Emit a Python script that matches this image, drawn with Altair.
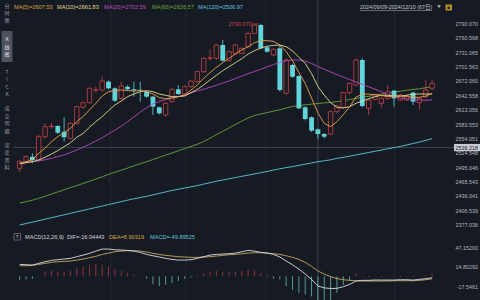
import altair as alt
import pandas as pd

# ---------------- data ----------------
idx = list(range(1, 67))
opens = [2493.5, 2507.2, 2517.4, 2510.6, 2558.5, 2579.1, 2580.5, 2568.8, 2555.1, 2586.0,
         2618.8, 2628.4, 2654.0, 2654.5, 2671.6, 2657.9, 2637.3, 2661.3, 2655.8, 2655.0,
         2651.0, 2640.8, 2618.8, 2603.1, 2630.5, 2655.8, 2646.2, 2661.3, 2671.6, 2692.1,
         2719.5, 2719.5, 2746.9, 2714.7, 2729.8, 2729.8, 2743.5, 2770.9, 2788.0, 2742.1,
         2726.4, 2740.1, 2648.0, 2705.8, 2683.2, 2618.8, 2598.3, 2573.6, 2564.0, 2564.0,
         2609.9, 2618.8, 2649.0, 2664.7, 2716.1, 2616.8, 2635.3, 2627.1, 2637.3, 2653.1,
         2634.0, 2634.0, 2649.0, 2628.4, 2640.8, 2658.0]
highs = [2510.6, 2520.9, 2524.3, 2562.0, 2586.0, 2587.3, 2582.0, 2598.3, 2588.0, 2622.0,
         2631.0, 2660.0, 2661.3, 2681.9, 2674.0, 2660.0, 2671.6, 2664.0, 2671.6, 2671.6,
         2653.0, 2642.0, 2620.0, 2629.0, 2658.0, 2664.7, 2664.0, 2675.0, 2694.0, 2721.0,
         2738.0, 2749.0, 2757.2, 2735.0, 2749.0, 2742.0, 2773.0, 2789.0, 2790.07, 2744.0,
         2740.0, 2746.9, 2720.0, 2708.0, 2685.0, 2621.0, 2600.0, 2575.0, 2566.0, 2612.0,
         2624.0, 2651.0, 2670.0, 2719.0, 2719.5, 2636.0, 2647.0, 2640.7, 2664.7, 2654.5,
         2647.0, 2646.0, 2651.0, 2640.0, 2675.0, 2675.0]
lows = [2486.6, 2503.7, 2503.7, 2507.2, 2555.1, 2575.7, 2564.0, 2548.3, 2553.0, 2584.0,
        2616.0, 2626.0, 2649.0, 2651.0, 2656.0, 2630.0, 2633.9, 2653.0, 2640.8, 2630.5,
        2638.0, 2603.1, 2604.0, 2599.7, 2628.0, 2644.0, 2644.0, 2659.0, 2669.0, 2690.0,
        2714.7, 2717.0, 2712.7, 2713.0, 2727.0, 2728.0, 2741.0, 2769.0, 2738.0, 2731.0,
        2724.0, 2651.0, 2644.0, 2679.0, 2615.0, 2592.0, 2568.0, 2555.0, 2555.0, 2562.0,
        2607.0, 2616.0, 2646.0, 2662.0, 2618.8, 2603.1, 2633.0, 2618.8, 2633.9, 2620.2,
        2632.0, 2632.0, 2623.6, 2613.4, 2637.0, 2654.0]
closes = [2507.2, 2517.4, 2510.6, 2558.5, 2579.1, 2580.5, 2566.8, 2557.2, 2586.0, 2620.2,
          2628.4, 2657.9, 2655.0, 2672.9, 2657.9, 2632.5, 2662.7, 2655.8, 2653.1, 2654.0,
          2640.8, 2620.2, 2606.5, 2627.1, 2655.8, 2646.2, 2661.3, 2672.9, 2692.1, 2719.5,
          2720.2, 2746.9, 2714.7, 2733.2, 2746.9, 2740.1, 2770.9, 2788.0, 2740.1, 2733.2,
          2738.0, 2654.5, 2716.0, 2681.8, 2616.8, 2594.9, 2570.9, 2564.0, 2558.5, 2609.9,
          2621.6, 2649.0, 2668.1, 2716.1, 2621.6, 2633.9, 2644.2, 2637.3, 2651.0, 2637.3,
          2644.2, 2642.1, 2630.5, 2637.3, 2654.5, 2668.1]
ma5 = [2503.8, 2507.2, 2510.6, 2524.3, 2534.6, 2548.3, 2558.5, 2566.8, 2575.7, 2589.4,
       2599.7, 2613.4, 2627.0, 2642.1, 2651.0, 2653.1, 2654.5, 2653.1, 2652.4, 2653.1,
       2651.0, 2646.2, 2638.7, 2636.6, 2638.0, 2640.8, 2644.2, 2654.5, 2664.7, 2678.4,
       2690.1, 2701.0, 2710.6, 2719.5, 2728.4, 2736.6, 2743.5, 2751.7, 2755.8, 2755.8,
       2754.5, 2746.9, 2733.2, 2714.7, 2690.1, 2668.1, 2638.0, 2607.5, 2586.0, 2579.1,
       2589.4, 2604.0, 2620.0, 2640.0, 2646.0, 2646.0, 2645.0, 2643.0, 2641.0, 2641.5,
       2642.1, 2640.8, 2639.4, 2639.4, 2642.1, 2647.6]
ma10 = [2502.4, 2505.1, 2507.2, 2510.6, 2516.1, 2522.9, 2529.8, 2538.0, 2546.2, 2557.2,
        2565.4, 2577.7, 2589.4, 2599.7, 2612.0, 2623.6, 2631.8, 2640.8, 2646.2, 2651.0,
        2653.1, 2651.0, 2646.2, 2643.5, 2640.8, 2640.8, 2642.1, 2649.0, 2655.8, 2664.7,
        2675.0, 2684.6, 2694.2, 2702.4, 2710.6, 2718.8, 2728.4, 2735.3, 2740.8, 2744.2,
        2746.2, 2746.9, 2743.5, 2735.0, 2721.6, 2709.3, 2688.0, 2661.8, 2644.0, 2628.4,
        2618.8, 2617.5, 2620.2, 2627.0, 2631.8, 2636.6, 2640.8, 2643.5, 2643.5, 2642.1,
        2642.1, 2643.5, 2646.2, 2646.2, 2646.2, 2646.2]
ma20 = [2504.0, 2505.5, 2507.0, 2509.0, 2511.0, 2514.0, 2517.5, 2521.0, 2526.0, 2531.0,
        2537.0, 2543.0, 2549.5, 2556.5, 2564.0, 2572.0, 2580.0, 2589.5, 2599.0, 2609.0,
        2618.0, 2626.0, 2631.0, 2634.5, 2637.5, 2641.0, 2644.5, 2648.5, 2652.5, 2656.0,
        2660.0, 2664.0, 2668.5, 2673.0, 2678.0, 2683.0, 2688.0, 2692.5, 2697.0, 2702.0,
        2706.5, 2711.0, 2714.5, 2716.0, 2716.0, 2714.0, 2709.0, 2702.6, 2697.0, 2691.5,
        2686.0, 2681.0, 2676.0, 2671.0, 2666.0, 2661.0, 2656.0, 2651.0, 2646.0, 2641.0,
        2638.0, 2636.0, 2634.5, 2634.0, 2633.5, 2634.0]
ma60 = [2422.0, 2425.0, 2428.0, 2432.0, 2436.0, 2440.5, 2445.0, 2449.5, 2454.0, 2458.0,
        2462.5, 2467.0, 2471.5, 2476.0, 2481.0, 2485.5, 2489.5, 2494.0, 2498.5, 2503.0,
        2507.0, 2511.5, 2516.0, 2520.5, 2525.0, 2529.5, 2534.0, 2538.5, 2543.0, 2548.5,
        2555.5, 2562.5, 2569.5, 2576.5, 2583.5, 2590.5, 2597.0, 2602.0, 2605.0, 2608.0,
        2611.0, 2614.0, 2617.5, 2620.5, 2622.5, 2624.0, 2625.5, 2626.6, 2628.0, 2629.0,
        2630.5, 2632.5, 2635.0, 2637.0, 2639.5, 2641.5, 2644.0, 2646.0, 2648.0, 2650.0,
        2652.0, 2654.0, 2655.5, 2657.0, 2659.0, 2661.0]
ma120 = [2377.0, 2380.0, 2383.0, 2386.0, 2389.0, 2392.0, 2395.0, 2398.0, 2401.0, 2404.0,
         2407.0, 2410.0, 2413.0, 2416.0, 2419.0, 2422.0, 2425.0, 2428.0, 2431.0, 2433.5,
         2436.0, 2439.0, 2442.0, 2445.0, 2448.0, 2450.5, 2453.0, 2455.5, 2458.0, 2461.0,
         2464.0, 2467.0, 2469.5, 2472.0, 2474.5, 2477.0, 2479.5, 2482.0, 2484.5, 2487.0,
         2490.0, 2492.5, 2495.0, 2497.0, 2499.5, 2502.0, 2504.5, 2507.0, 2509.0, 2511.0,
         2514.0, 2516.0, 2518.5, 2521.0, 2523.5, 2526.0, 2528.5, 2531.0, 2533.5, 2536.0,
         2538.5, 2541.5, 2544.5, 2547.5, 2551.0, 2554.5]
dif = [19.7, 19.1, 18.6, 21.3, 24.1, 26.3, 27.4, 28.5, 29.6, 32.3,
       35.0, 37.8, 41.6, 44.9, 44.9, 43.8, 43.3, 42.7, 41.6, 39.4,
       36.1, 33.9, 31.8, 29.6, 27.9, 26.8, 26.8, 27.4, 29.6, 32.3,
       35.0, 36.1, 36.7, 37.2, 38.3, 40.5, 42.7, 41.6, 39.4, 38.3,
       36.1, 31.8, 25.2, 19.0, 12.0, 4.0, -5.0, -16.0, -19.0, -20.0,
       -19.8, -17.1, -13.2, -7.7, -6.6, -6.6, -6.1, -6.1, -6.1, -6.1,
       -5.6, -5.6, -6.1, -5.0, -3.9, -2.3]
dea = [17.5, 17.5, 18.0, 19.7, 21.3, 23.0, 24.1, 24.6, 25.2, 26.8,
       28.5, 30.7, 32.9, 36.1, 38.3, 40.5, 41.6, 42.2, 42.2, 41.6,
       40.0, 37.8, 36.1, 34.5, 33.4, 32.3, 31.8, 31.2, 31.2, 31.8,
       32.3, 33.4, 34.5, 35.6, 36.1, 37.2, 38.3, 38.9, 38.9, 38.3,
       37.2, 36.1, 33.9, 31.2, 27.9, 23.0, 16.5, 8.9, 3.5, -0.5,
       -3.5, -5.6, -6.6, -7.2, -7.7, -7.7, -7.7, -7.7, -7.7, -7.2,
       -7.2, -7.2, -7.2, -6.6, -5.6, -3.9]
macd = [-6, -5, -4, 0.5, 8, 9, 8, 7, 9, 14,
        16, 19, 20, 19, 16, 12, 9, 6, 3, 0.5,
        -4, -13, -16, -14, -11, -8, -4, -2, 2, 5,
        8, 9, 7, 8, 8, 9, 11, 10, 5, -1,
        -4, -5, -16, -22, -27, -30, -33, -49.9, -52, -50,
        -27, -14, -7, 5, 0.5, -1, 1, -1, 1, 1,
        -1, 1, -1, 0.5, 2, 5]

price_ticks = [2790.070, 2760.568, 2731.065, 2701.563, 2672.060, 2642.558, 2613.056, 2583.553,
               2554.051, 2524.548, 2495.046, 2465.543, 2436.041, 2406.539, 2377.036]
macd_ticks = [47.15200, 14.80292, -17.5461]
macd_tick_labels = ["47.15200", "14.80292", "-17.5461"]
cross_idx = [48]
cross_price = [2536.218]
max_idx = [39]
max_price = [2790.07]
grid_idx = [15.3, 27.2, 39.8, 60.1]

# ---------------- styling ----------------
BG = "#161a22"
RED = "#cc4248"
CYAN = "#62d4dc"
FONT = "Liberation Sans"
CJK = "Noto Sans CJK SC"

df = pd.DataFrame({"i": idx, "open": opens, "high": highs, "low": lows, "close": closes,
                   "ma5": ma5, "ma10": ma10, "ma20": ma20, "ma60": ma60, "ma120": ma120,
                   "dif": dif, "dea": dea, "macd": macd})
df["zero"] = 0.0

XS = alt.Scale(domain=[-1.3148, 72.7593], nice=False, zero=False)
PS = alt.Scale(domain=[2377.036, 2790.07], range=[225, 24], nice=False, zero=False)
MS = alt.Scale(domain=[-17.5461, 47.152], range=[287, 247.7], nice=False, zero=False)


def X(f="i"):
    return alt.X(f"{f}:Q", scale=XS, axis=None)


def PY(f):
    return alt.Y(f"{f}:Q", scale=PS, axis=None)


def MY(f):
    return alt.Y(f"{f}:Q", scale=MS, axis=None)


one = pd.DataFrame({"k": [0]})


def label(txt, x, y, color, size=5.6, font=FONT, align="left"):
    return alt.Chart(one).mark_text(text=txt, align=align, baseline="middle", fontSize=size,
                                    font=font, color=color).encode(
        x=alt.value(x), y=alt.value(y))


base = alt.Chart(df)

# grid & crosshair
grid = alt.Chart(pd.DataFrame({"g": grid_idx})).mark_rule(color="#242831", strokeWidth=1).encode(
    x=X("g"), y=alt.value(0), y2=alt.value(300))
vcross = alt.Chart(pd.DataFrame({"c": cross_idx})).mark_rule(color="#40444e", strokeWidth=1).encode(
    x=X("c"), y=alt.value(0), y2=alt.value(300))
hcross = alt.Chart(pd.DataFrame({"p": cross_price})).mark_rule(color="#3c404a", strokeWidth=1).encode(
    y=PY("p"), x=alt.value(13), x2=alt.value(454))

up = base.transform_filter("datum.close >= datum.open")
dn = base.transform_filter("datum.close < datum.open")
wick_up = up.mark_rule(color=RED, strokeWidth=0.8).encode(x=X(), y=PY("low"), y2=alt.Y2("high"))
wick_dn = dn.mark_rule(color=CYAN, strokeWidth=0.8).encode(x=X(), y=PY("low"), y2=alt.Y2("high"))
body_up = up.mark_bar(size=4.4, fill=BG, stroke=RED, strokeWidth=0.8).encode(
    x=X(), y=PY("open"), y2=alt.Y2("close"))
body_dn = dn.mark_bar(size=4.8, color=CYAN).encode(x=X(), y=PY("open"), y2=alt.Y2("close"))

ma_cols = [("ma120", "#5cc6e2"), ("ma60", "#6ea23c"), ("ma20", "#b847c2"),
           ("ma10", "#e3da8e"), ("ma5", "#e6a44c")]
ma_layers = [base.mark_line(color=c, strokeWidth=0.9).encode(x=X(), y=PY(f)) for f, c in ma_cols]

maxdf = pd.DataFrame({"i": max_idx, "p": max_price})
max_txt = alt.Chart(maxdf).mark_text(align="right", baseline="middle", dx=-9, fontSize=5.6,
                                     font=FONT, color=RED).encode(
    x=X(), y=PY("p"), text=alt.Text("p:Q", format=".3f"))
max_line = alt.Chart(maxdf).mark_rule(color=RED, strokeWidth=0.8, xOffset=-8, x2Offset=-2).encode(
    x=X(), x2=alt.X2("i"), y=PY("p"))

tickdf = pd.DataFrame({"p": price_ticks})
ptick_txt = alt.Chart(tickdf).mark_text(align="right", baseline="middle", fontSize=5.4,
                                        font=FONT, color="#b4b8c0").encode(
    x=alt.value(478), y=PY("p"), text=alt.Text("p:Q", format=".3f"))

cdf = pd.DataFrame({"p": cross_price})
cross_box = alt.Chart(cdf).mark_rect(color="#c9ccd3", yOffset=-3.6, y2Offset=3.6).encode(
    x=alt.value(454), x2=alt.value(480), y=PY("p"), y2=alt.Y2("p"))
cross_txt = alt.Chart(cdf).mark_text(align="right", baseline="middle", fontSize=5.4,
                                     font=FONT, color="#15181f").encode(
    x=alt.value(478), y=PY("p"), text=alt.Text("p:Q", format=".3f"))

# header
header = [
    label("MA(5)=2607.53", 14, 7, "#dba443"),
    label("MA(10)=2661.83", 57, 7, "#e3db8c"),
    label("MA(20)=2702.59", 104, 7, "#c04ac8"),
    label("MA(60)=2626.57", 152, 7, "#6aa83c"),
    label("MA(120)=2506.97", 198, 7, "#5ec4e4"),
    label("2024/09/09-2024/12/10 (67日)", 360, 6.8, "#c6cad2", size=5.4,
          font="Liberation Sans, Noto Sans CJK SC"),
    alt.Chart(one).mark_rule(color="#9a9ea6", strokeWidth=0.6).encode(
        x=alt.value(360), x2=alt.value(432), y=alt.value(10.5)),
    label("▼", 439, 7, "#9ca0a8", size=4.5, font="DejaVu Sans", align="center"),
    alt.Chart(one).mark_rect(color="#b8952c").encode(
        x=alt.value(445.5), x2=alt.value(452), y=alt.value(4.5), y2=alt.value(10.5)),
    alt.Chart(one).mark_rect(color="#2a2418").encode(
        x=alt.value(447.5), x2=alt.value(450), y=alt.value(6.5), y2=alt.value(9)),
]

# sidebar
side = [alt.Chart(one).mark_rect(color="#4e525d").encode(
    x=alt.value(1.5), x2=alt.value(12.5), y=alt.value(31), y2=alt.value(62))]
side_chars = [("分", 5.5), ("时", 12.8), ("图", 20.2),
              ("K", 39.3), ("线", 46.7), ("图", 54.2),
              ("T", 71.7), ("I", 79.2), ("C", 86.7), ("K", 94.2),
              ("成", 108.3), ("交", 115.8), ("明", 123.3), ("细", 130.8),
              ("深", 145.0), ("度", 152.4), ("资", 159.8), ("料", 167.2)]
for ch, yy in side_chars:
    side.append(label(ch, 7, yy, "#e2e4ea" if 35 < yy < 60 else "#9a9ea8", size=5.0,
                      font=CJK, align="center"))

price_group = alt.layer(grid, vcross, hcross, *ma_layers[:2], wick_up, wick_dn, body_up, body_dn,
                        *ma_layers[2:], max_line, max_txt, ptick_txt, cross_box, cross_txt,
                        *header, *side)

# MACD panel
hist_up = base.transform_filter("datum.macd >= 0").mark_rule(color="#9c3438", strokeWidth=0.9).encode(
    x=X(), y=MY("zero"), y2=alt.Y2("macd"))
hist_dn = base.transform_filter("datum.macd < 0").mark_rule(color="#5aa8a4", strokeWidth=0.9).encode(
    x=X(), y=MY("zero"), y2=alt.Y2("macd"))
dif_line = base.mark_line(color="#dcdde4", strokeWidth=0.9).encode(x=X(), y=MY("dif"))
dea_line = base.mark_line(color="#c9a860", strokeWidth=0.9).encode(x=X(), y=MY("dea"))
mtick = alt.Chart(pd.DataFrame({"v": macd_ticks, "t": macd_tick_labels})).mark_text(
    align="right", baseline="middle", fontSize=5.4, font=FONT, color="#b4b8c0").encode(
    x=alt.value(478), y=MY("v"), text="t:N")

macd_head = [
    alt.Chart(one).mark_rect(fill=BG, stroke="#8a8e96", strokeWidth=0.6).encode(
        x=alt.value(14), x2=alt.value(20.5), y=alt.value(233.5), y2=alt.value(240)),
    label("?", 17.25, 236.8, "#b8bcc4", size=5, align="center"),
    label("MACD(12,26,9)", 25, 237, "#d6d8de"),
    label("DIF=-16.04443", 67, 237, "#d6d8de"),
    label("DEA=8.90319", 109, 237, "#d9a648"),
    label("MACD=-49.89525", 150, 237, "#5ec6d6"),
]

macd_group = alt.layer(hist_up, hist_dn, dea_line, dif_line, mtick, *macd_head)

chart = alt.layer(price_group, macd_group).resolve_scale(y="independent").properties(
    width=480, height=300, padding=0, autosize=alt.AutoSizeParams(type="none"),
    background=BG,
).configure_view(stroke=None)

chart.save("out.html", embed_options={"renderer": "svg", "actions": False})
